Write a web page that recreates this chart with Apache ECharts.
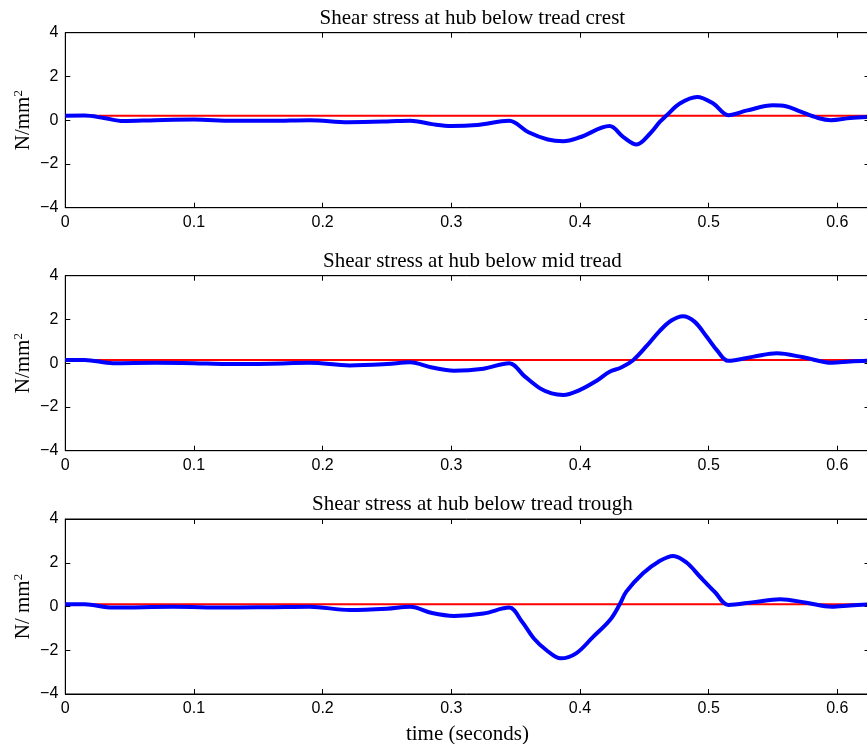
<!DOCTYPE html>
<html><head><meta charset="utf-8">
<script src="https://cdn.jsdelivr.net/npm/echarts@6/dist/echarts.min.js"></script>
<style>html,body{margin:0;padding:0;background:#fff}#c{width:867px;height:744px}</style>
</head><body><div id="c"></div>
<script>
// ---- data ----
var titles = ['Shear stress at hub below tread crest', 'Shear stress at hub below mid tread', 'Shear stress at hub below tread trough'];
var yNames = ['N/mm', 'N/mm', 'N/ mm'];
var xTickLabels = ['0', '0.1', '0.2', '0.3', '0.4', '0.5', '0.6'];
var yTickLabels = ['−4', '−2', '0', '2', '4'];
var refLevels = [0.2, 0.15, 0.1];

var crestT = [0,0.015,0.03,0.045,0.07,0.1,0.13,0.16,0.19,0.22,0.25,0.268,0.285,0.30,0.32,0.345,0.36,0.375,0.387,0.40,0.423,0.4335,0.444,0.4545,0.462,0.467,0.4776,0.491,0.5036,0.5153,0.53,0.55,0.56,0.571,0.585,0.595,0.61,0.625];
var crestV = [0.2,0.21,0.1,-0.04,0.0,0.03,-0.03,-0.03,0.0,-0.09,-0.06,-0.02,-0.18,-0.27,-0.22,-0.03,-0.55,-0.88,-0.96,-0.78,-0.27,-0.76,-1.11,-0.61,-0.08,0.2,0.76,1.06,0.76,0.23,0.45,0.68,0.64,0.4,0.1,0.0,0.1,0.15];

var midT = [0,0.015,0.037,0.07,0.1,0.125,0.16,0.19,0.221,0.25,0.268,0.285,0.302,0.325,0.345,0.357,0.369,0.378,0.387,0.40,0.413,0.423,0.432,0.4415,0.452,0.462,0.471,0.48,0.489,0.4985,0.507,0.515,0.535,0.553,0.5736,0.5956,0.61,0.625];
var midV = [0.15,0.15,0.0,0.02,0.0,-0.04,-0.02,0.02,-0.1,-0.04,0.04,-0.2,-0.34,-0.25,0.0,-0.6,-1.15,-1.38,-1.45,-1.22,-0.8,-0.39,-0.2,0.15,0.8,1.48,1.95,2.15,1.9,1.21,0.55,0.11,0.3,0.45,0.27,0.02,0.08,0.11];

var troughT = [0,0.015,0.037,0.084,0.125,0.16,0.19,0.221,0.25,0.268,0.285,0.302,0.325,0.345,0.355,0.364,0.374,0.385,0.397,0.41,0.4233,0.431,0.436,0.449,0.461,0.4725,0.483,0.4933,0.505,0.5153,0.535,0.5555,0.576,0.5956,0.61,0.625];
var troughV = [0.1,0.1,-0.05,-0.01,-0.05,-0.03,-0.01,-0.16,-0.1,-0.01,-0.3,-0.43,-0.32,-0.05,-0.7,-1.45,-2.0,-2.37,-2.14,-1.4,-0.62,0.11,0.68,1.52,2.05,2.31,2.0,1.36,0.65,0.07,0.2,0.33,0.17,-0.01,0.05,0.1];

var seriesT = [crestT, midT, troughT];
var seriesV = [crestV, midV, troughV];
var X_MIN = 0, X_MAX = 0.625;

// ---- layout ----
var tops = [32.7, 275.7, 519];
var gridH = 175, gridL = 65.3, gridW = 804.2;
var chart = echarts.init(document.getElementById('c'), null, {renderer: 'canvas'});
var grids = [], xAxes = [], yAxes = [], series = [], titleArr = [];
var sans = 'Liberation Sans, Arial, Helvetica, sans-serif';
var serif = 'Liberation Serif, Times New Roman, serif';
function fmtY(v){ return String(v).replace('-', '−'); }
function fmtX(v){ return Math.abs(v - 0.625) < 1e-6 ? '' : String(v); }

for (var i = 0; i < 3; i++) {
  grids.push({left: gridL, top: tops[i], width: gridW, height: gridH, show: true, borderColor: '#000', borderWidth: 1,
    backgroundColor: 'transparent', containLabel: false, outerBoundsMode: 'none'});
  var gi = i;
  xAxes.push({type: 'value', gridIndex: gi, min: X_MIN, max: X_MAX, interval: 0.1, position: 'bottom',
    axisLine: {show: true, onZero: false, lineStyle: {color: '#000', width: 1}},
    axisTick: {show: true, inside: true, length: 5, lineStyle: {color: '#000'}},
    axisLabel: {show: true, color: '#000', fontSize: 16, fontFamily: sans, margin: 7, formatter: fmtX, showMaxLabel: false},
    splitLine: {show: false},
    name: i === 2 ? 'time (seconds)' : '', nameLocation: 'middle', nameGap: 30,
    nameTextStyle: {color: '#000', fontSize: 21, fontFamily: serif}});
  xAxes.push({type: 'value', gridIndex: gi, min: X_MIN, max: X_MAX, interval: 0.1, position: 'top',
    axisLine: {show: true, onZero: false, lineStyle: {color: '#000', width: 1}},
    axisTick: {show: true, inside: true, length: 5, lineStyle: {color: '#000'}},
    axisLabel: {show: false}, splitLine: {show: false}});
  yAxes.push({type: 'value', gridIndex: gi, min: -4, max: 4, interval: 2, position: 'left',
    axisLine: {show: true, onZero: false, lineStyle: {color: '#000', width: 1}},
    axisTick: {show: true, inside: true, length: 5, lineStyle: {color: '#000'}},
    axisLabel: {show: true, color: '#000', fontSize: 16, fontFamily: sans, margin: 7, formatter: fmtY},
    splitLine: {show: false},
    name: '{a|' + yNames[i] + '}{s|2}', nameLocation: 'middle', nameGap: 31, nameRotate: 90, nameMoveOverlap: false,
    nameTextStyle: {color: '#000', fontFamily: serif, rich: {
      a: {fontSize: 21, fontFamily: serif, color: '#000', verticalAlign: 'bottom', lineHeight: 22},
      s: {fontSize: 13, fontFamily: serif, color: '#000', verticalAlign: 'top', lineHeight: 22}
    }}});
  yAxes.push({type: 'value', gridIndex: gi, min: -4, max: 4, interval: 2, position: 'right',
    axisLine: {show: true, onZero: false, lineStyle: {color: '#000', width: 1}},
    axisTick: {show: true, inside: true, length: 5, lineStyle: {color: '#000'}},
    axisLabel: {show: false}, splitLine: {show: false}});

  var ref = [[X_MIN, refLevels[i]], [X_MAX, refLevels[i]]];
  series.push({type: 'line', xAxisIndex: 2*i, yAxisIndex: 2*i, data: ref, symbol: 'none',
    lineStyle: {color: '#ff0000', width: 2}, silent: true, animation: false, z: 2});
  var pts = seriesT[i].map(function(t, k){ return [t, seriesV[i][k]]; });
  series.push({type: 'line', xAxisIndex: 2*i, yAxisIndex: 2*i, data: pts, symbol: 'none', smooth: 0.35,
    lineStyle: {color: '#0000ff', width: 4}, silent: true, animation: false, z: 3});

  titleArr.push({text: titles[i], left: gridL + gridW/2, top: tops[i] - 30, textAlign: 'center',
    textStyle: {color: '#000', fontSize: 21, fontWeight: 'normal', fontFamily: serif}});
}

chart.setOption({
  animation: false,
  backgroundColor: '#fff',
  title: titleArr,
  grid: grids,
  xAxis: xAxes,
  yAxis: yAxes,
  series: series
});
</script>
</body></html>
